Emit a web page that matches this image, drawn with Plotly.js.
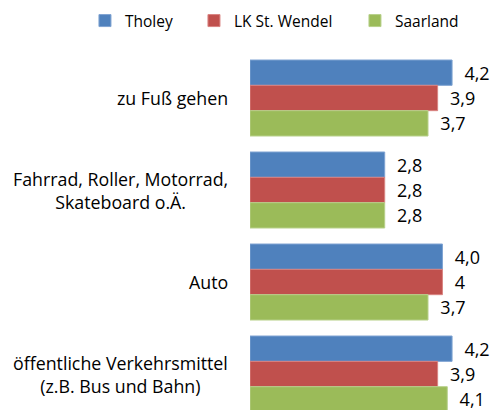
<!DOCTYPE html>
<html><head><meta charset="utf-8">
<script src="https://cdn.plot.ly/plotly-3.0.1.min.js"></script>
<style>html,body{margin:0;padding:0;overflow:hidden;background:#fff}</style>
</head><body><div id="chart" style="width:492px;height:410px"></div>
<script>
const categories = ["zu Fuß gehen", "Fahrrad, Roller, Motorrad,<br>Skateboard o.Ä.", "Auto", "öffentliche Verkehrsmittel<br>(z.B. Bus und Bahn)"];
const seriesNames = ["Tholey", "LK St. Wendel", "Saarland"];
const tholey = [4.2, 2.8, 4.0, 4.2];
const lkStWendel = [3.9, 2.8, 4.0, 3.9];
const saarland = [3.7, 2.8, 3.7, 4.1];
const tholeyLabels = ["4,2", "2,8", "4,0", "4,2"];
const lkStWendelLabels = ["3,9", "2,8", "4", "3,9"];
const saarlandLabels = ["3,7", "2,8", "3,7", "4,1"];
const colors = ["#4F81BD", "#C0504D", "#9BBB59"];
const lineColors = ["#7FA3D2", "#D98482", "#B7D08A"];
const legendWidths = [64, 116, 66];

const FONT = "'Open Sans', sans-serif";
const vals = [tholey, lkStWendel, saarland];
const labs = [tholeyLabels, lkStWendelLabels, saarlandLabels];
const traces = vals.map((v, i) => ({
  type: "bar", orientation: "h", name: seriesNames[i],
  x: v, y: categories, text: labs[i],
  texttemplate: "\u00a0\u00a0%{text}",
  textposition: "outside", cliponaxis: false, constraintext: "none",
  textfont: {family: FONT, size: 18, color: "#000"},
  marker: {color: colors[i], line: {color: lineColors[i], width: 1}},
  legendwidth: legendWidths[i],
  hoverinfo: "skip"
}));

const annotations = categories.map(c => ({
  xref: "paper", yref: "y", x: -0.083, y: c, text: c,
  xanchor: "right", yanchor: "middle", align: "center", showarrow: false,
  font: {family: FONT, size: 17.8, color: "#000"}
}));

const layout = {
  width: 492, height: 410,
  margin: {l: 250, r: 0, t: 52, b: 0, pad: 0, autoexpand: false},
  paper_bgcolor: "#fff", plot_bgcolor: "#fff",
  barmode: "group", bargap: 0.174, bargroupgap: 0,
  showlegend: true,
  legend: {orientation: "h", x: -0.682, xref: "paper", xanchor: "left", y: 1.0866, yref: "paper", yanchor: "middle",
    font: {family: FONT, size: 15.5, color: "#000"}, itemwidth: 30, traceorder: "normal",
    bgcolor: "rgba(0,0,0,0)"},
  xaxis: {range: [0, 5.03], visible: false, fixedrange: true},
  yaxis: {type: "category", categoryorder: "array", categoryarray: categories,
    range: [3.391, -0.5], showticklabels: false, showgrid: false, zeroline: false,
    showline: false, ticks: "", fixedrange: true},
  annotations: annotations
};
Plotly.newPlot("chart", traces, layout, {displayModeBar: false, staticPlot: true});
</script></body></html>
